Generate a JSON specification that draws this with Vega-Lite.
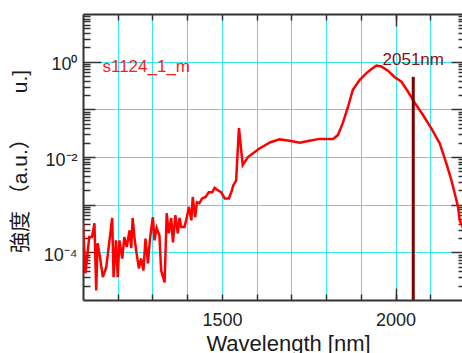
{
  "$schema": "https://vega.github.io/schema/vega-lite/v6.json",
  "width": 382,
  "height": 286,
  "autosize": {"type": "none"},
  "padding": {"left": 83, "top": 14, "right": 0, "bottom": 53},
  "background": "white",
  "config": {
    "view": {"stroke": null},
    "font": "Liberation Sans",
    "axis": {
      "domainColor": "#333333",
      "domainWidth": 2,
      "tickColor": "#333333",
      "tickWidth": 1.5,
      "gridColor": "#33e8f2",
      "gridWidth": 1,
      "labelFont": "Liberation Sans",
      "labelFontSize": 18,
      "labelColor": "#222222",
      "labelOverlap": false,
      "labelFlush": false,
      "titleFontWeight": "normal",
      "titleColor": "#1a1a1a"
    }
  },
  "datasets": {
    "spec": [
      {"wl": 1100, "v": 4.07e-4}, {"wl": 1107, "v": 3.63e-5}, {"wl": 1118, "v": 2.09e-4}, {"wl": 1126, "v": 2.09e-4},
      {"wl": 1133, "v": 4.07e-4}, {"wl": 1138, "v": 1.58e-5}, {"wl": 1142, "v": 1.55e-4}, {"wl": 1149, "v": 7.94e-5},
      {"wl": 1157, "v": 3.02e-5}, {"wl": 1167, "v": 4.90e-5}, {"wl": 1174, "v": 1.29e-4}, {"wl": 1184, "v": 5.25e-4},
      {"wl": 1188, "v": 3.02e-5}, {"wl": 1195, "v": 1.78e-4}, {"wl": 1200, "v": 3.02e-5}, {"wl": 1205, "v": 1.78e-4},
      {"wl": 1213, "v": 7.41e-5}, {"wl": 1219, "v": 2.09e-4}, {"wl": 1226, "v": 1.29e-4}, {"wl": 1234, "v": 2.88e-4},
      {"wl": 1239, "v": 1.23e-4}, {"wl": 1243, "v": 5.25e-4}, {"wl": 1248, "v": 2.09e-4}, {"wl": 1253, "v": 1.10e-4},
      {"wl": 1261, "v": 4.57e-5}, {"wl": 1267, "v": 7.41e-5}, {"wl": 1274, "v": 4.17e-5}, {"wl": 1280, "v": 1.95e-4},
      {"wl": 1287, "v": 5.89e-5}, {"wl": 1293, "v": 1.95e-4}, {"wl": 1301, "v": 5.50e-4}, {"wl": 1306, "v": 1.78e-4},
      {"wl": 1312, "v": 3.24e-4}, {"wl": 1320, "v": 2.29e-4}, {"wl": 1325, "v": 4.17e-5}, {"wl": 1335, "v": 2.34e-5},
      {"wl": 1341, "v": 6.61e-4}, {"wl": 1347, "v": 2.51e-4}, {"wl": 1354, "v": 5.25e-4}, {"wl": 1359, "v": 1.62e-4},
      {"wl": 1366, "v": 6.03e-4}, {"wl": 1373, "v": 2.51e-4}, {"wl": 1378, "v": 5.25e-4}, {"wl": 1383, "v": 3.39e-4},
      {"wl": 1392, "v": 3.39e-4}, {"wl": 1397, "v": 4.68e-4}, {"wl": 1405, "v": 8.91e-4}, {"wl": 1412, "v": 4.68e-4},
      {"wl": 1416, "v": 1.45e-3}, {"wl": 1423, "v": 5.50e-4}, {"wl": 1428, "v": 1.12e-3}, {"wl": 1435, "v": 1.07e-3},
      {"wl": 1443, "v": 1.35e-3}, {"wl": 1453, "v": 1.45e-3}, {"wl": 1462, "v": 1.82e-3}, {"wl": 1472, "v": 1.82e-3},
      {"wl": 1479, "v": 2.24e-3}, {"wl": 1488, "v": 2.00e-3}, {"wl": 1498, "v": 1.82e-3}, {"wl": 1508, "v": 1.35e-3},
      {"wl": 1520, "v": 1.35e-3}, {"wl": 1527, "v": 1.82e-3}, {"wl": 1533, "v": 2.57e-3}, {"wl": 1541, "v": 3.24e-3},
      {"wl": 1549, "v": 4.07e-2}, {"wl": 1560, "v": 6.76e-3}, {"wl": 1575, "v": 1.00e-2}, {"wl": 1608, "v": 1.51e-2},
      {"wl": 1640, "v": 2.04e-2}, {"wl": 1666, "v": 2.34e-2}, {"wl": 1695, "v": 2.19e-2}, {"wl": 1724, "v": 2.00e-2},
      {"wl": 1752, "v": 2.19e-2}, {"wl": 1781, "v": 2.40e-2}, {"wl": 1820, "v": 2.40e-2}, {"wl": 1834, "v": 2.88e-2},
      {"wl": 1848, "v": 5.13e-2}, {"wl": 1863, "v": 0.112}, {"wl": 1877, "v": 0.257}, {"wl": 1897, "v": 0.417},
      {"wl": 1916, "v": 0.575}, {"wl": 1930, "v": 0.692}, {"wl": 1945, "v": 0.832}, {"wl": 1959, "v": 0.794},
      {"wl": 1978, "v": 0.646}, {"wl": 1997, "v": 0.479}, {"wl": 2017, "v": 0.380}, {"wl": 2036, "v": 0.234},
      {"wl": 2055, "v": 0.138}, {"wl": 2079, "v": 0.0759}, {"wl": 2103, "v": 0.0398}, {"wl": 2127, "v": 0.0195},
      {"wl": 2146, "v": 0.00741}, {"wl": 2161, "v": 0.00324}, {"wl": 2173, "v": 0.00145}, {"wl": 2180, "v": 8.91e-4},
      {"wl": 2185, "v": 4.68e-4}, {"wl": 2192, "v": 3.55e-4}, {"wl": 2200, "v": 2.5e-4}
    ]
  },
  "layer": [
    {
      "data": {"name": "spec"},
      "mark": {"type": "line", "color": "#ff0000", "strokeWidth": 2.5, "clip": true},
      "encoding": {
        "x": {
          "field": "wl", "type": "quantitative",
          "scale": {"domain": [1100, 2200], "nice": false, "zero": false},
          "axis": {
            "orient": "bottom",
            "values": [1200, 1300, 1400, 1500, 1600, 1700, 1800, 1900, 2000, 2100],
            "format": "d",
            "labelExpr": "datum.value == 1500 || datum.value == 2000 ? datum.label : ''",
            "ticks": false,
            "tickSize": 0,
            "labelPadding": 11,
            "grid": true,
            "title": "Wavelength [nm]",
            "titleFont": "Liberation Sans",
            "titleFontSize": 22,
            "titleX": 205,
            "titleY": 50,
            "titleBaseline": "alphabetic",
            "titleAlign": "center"
          }
        },
        "y": {
          "field": "v", "type": "quantitative",
          "scale": {"type": "log", "domain": [1e-5, 10], "nice": false},
          "axis": {
            "orient": "left",
            "values": [1e-5, 1e-4, 1e-3, 0.01, 0.1, 1, 10],
            "labelExpr": "datum.value == 1 ? '10⁰' : datum.value == 0.01 ? '10⁻²' : datum.value == 0.0001 ? '10⁻⁴' : ''",
            "ticks": false,
            "tickSize": 0,
            "labelPadding": 6,
            "labelOffset": 3,
            "grid": true,
            "title": "強度\u00a0（a.u.）\u00a0\u00a0\u00a0\u00a0\u00a0\u00a0u.]",
            "titleFont": "Liberation Sans, Noto Sans CJK JP",
            "titleFontSize": 21,
            "titleAngle": -90,
            "titleX": -57,
            "titleY": 147,
            "titleBaseline": "alphabetic",
            "titleAlign": "center"
          }
        }
      }
    },
    {
      "data": {"name": "spec"},
      "mark": {"type": "line", "opacity": 0},
      "encoding": {
        "x": {
          "field": "wl", "type": "quantitative",
          "axis": {
            "orient": "top", "offset": -286,
            "values": [1200, 1300, 1400, 1500, 1600, 1700, 1800, 1900, 2000, 2100],
            "labels": false, "ticks": true, "grid": false, "domain": false, "title": null,
            "tickSize": 6
          }
        },
        "y": {
          "field": "v", "type": "quantitative",
          "axis": {
            "orient": "right", "offset": -382,
            "values": [2e-5, 3e-5, 4e-5, 5e-5, 6e-5, 7e-5, 8e-5, 9e-5,
                       2e-4, 3e-4, 4e-4, 5e-4, 6e-4, 7e-4, 8e-4, 9e-4,
                       2e-3, 3e-3, 4e-3, 5e-3, 6e-3, 7e-3, 8e-3, 9e-3,
                       0.02, 0.03, 0.04, 0.05, 0.06, 0.07, 0.08, 0.09,
                       0.2, 0.3, 0.4, 0.5, 0.6, 0.7, 0.8, 0.9,
                       2, 3, 4, 5, 6, 7, 8, 9],
            "labels": false, "ticks": true, "grid": false, "domain": false, "title": null,
            "tickSize": 7
          }
        }
      }
    },
    {
      "data": {"name": "spec"},
      "mark": {"type": "line", "opacity": 0},
      "encoding": {
        "x": {
          "field": "wl", "type": "quantitative",
          "axis": {
            "orient": "bottom", "offset": -286,
            "values": [1200, 1300, 1400, 1500, 1600, 1700, 1800, 1900, 2000, 2100],
            "labels": false, "ticks": true, "grid": false, "domain": true, "title": null,
            "tickSize": 6
          }
        },
        "y": {
          "field": "v", "type": "quantitative",
          "axis": {
            "orient": "left", "offset": -382,
            "values": [2e-5, 3e-5, 4e-5, 5e-5, 6e-5, 7e-5, 8e-5, 9e-5,
                       2e-4, 3e-4, 4e-4, 5e-4, 6e-4, 7e-4, 8e-4, 9e-4,
                       2e-3, 3e-3, 4e-3, 5e-3, 6e-3, 7e-3, 8e-3, 9e-3,
                       0.02, 0.03, 0.04, 0.05, 0.06, 0.07, 0.08, 0.09,
                       0.2, 0.3, 0.4, 0.5, 0.6, 0.7, 0.8, 0.9,
                       2, 3, 4, 5, 6, 7, 8, 9],
            "labels": false, "ticks": true, "grid": false, "domain": true, "title": null,
            "tickSize": 7
          }
        }
      }
    },
    {
      "data": {"values": [{"wl": 2051, "top": 0.48, "bottom": 1e-5}]},
      "mark": {"type": "rule", "color": "#800000", "strokeWidth": 3},
      "encoding": {
        "x": {
          "field": "wl", "type": "quantitative",
          "axis": {
            "orient": "top", "offset": -286, "values": [2000],
            "labels": false, "ticks": true, "grid": false, "domain": false, "title": null,
            "tickSize": 12
          }
        },
        "y": {
          "field": "top", "type": "quantitative",
          "axis": {
            "orient": "right", "offset": -382, "values": [1e-4, 1e-3, 0.01, 0.1],
            "labels": false, "ticks": true, "grid": false, "domain": false, "title": null,
            "tickSize": 12
          }
        },
        "y2": {"field": "bottom"}
      }
    },
    {
      "data": {"values": [{"wl": 2051, "v": 0.853, "label": "2051nm"}]},
      "mark": {"type": "text", "color": "#8b1010", "fontSize": 17, "font": "Liberation Sans", "align": "center", "baseline": "alphabetic"},
      "encoding": {
        "x": {
          "field": "wl", "type": "quantitative",
          "axis": {
            "orient": "bottom", "offset": -286, "values": [2000],
            "labels": false, "ticks": true, "grid": false, "domain": false, "title": null,
            "tickSize": 12
          }
        },
        "y": {
          "field": "v", "type": "quantitative",
          "axis": {
            "orient": "left", "offset": -382, "values": [1e-4, 1e-3, 0.01, 0.1, 1],
            "labels": false, "ticks": true, "grid": false, "domain": false, "title": null,
            "tickSize": 14
          }
        },
        "text": {"field": "label"}
      }
    },
    {
      "data": {"values": [{"wl": 1156, "v": 0.617, "label": "s1124_1_m"}]},
      "mark": {"type": "text", "color": "#ff1a1a", "fontSize": 17, "font": "Liberation Sans", "align": "left", "baseline": "alphabetic"},
      "encoding": {
        "x": {"field": "wl", "type": "quantitative", "axis": null},
        "y": {
          "field": "v", "type": "quantitative",
          "axis": {
            "orient": "right", "offset": -382, "values": [1],
            "labels": false, "ticks": true, "grid": false, "domain": false, "title": null,
            "tickSize": 18
          }
        },
        "text": {"field": "label"}
      }
    }
  ],
  "resolve": {"axis": {"x": "independent", "y": "independent"}}
}
